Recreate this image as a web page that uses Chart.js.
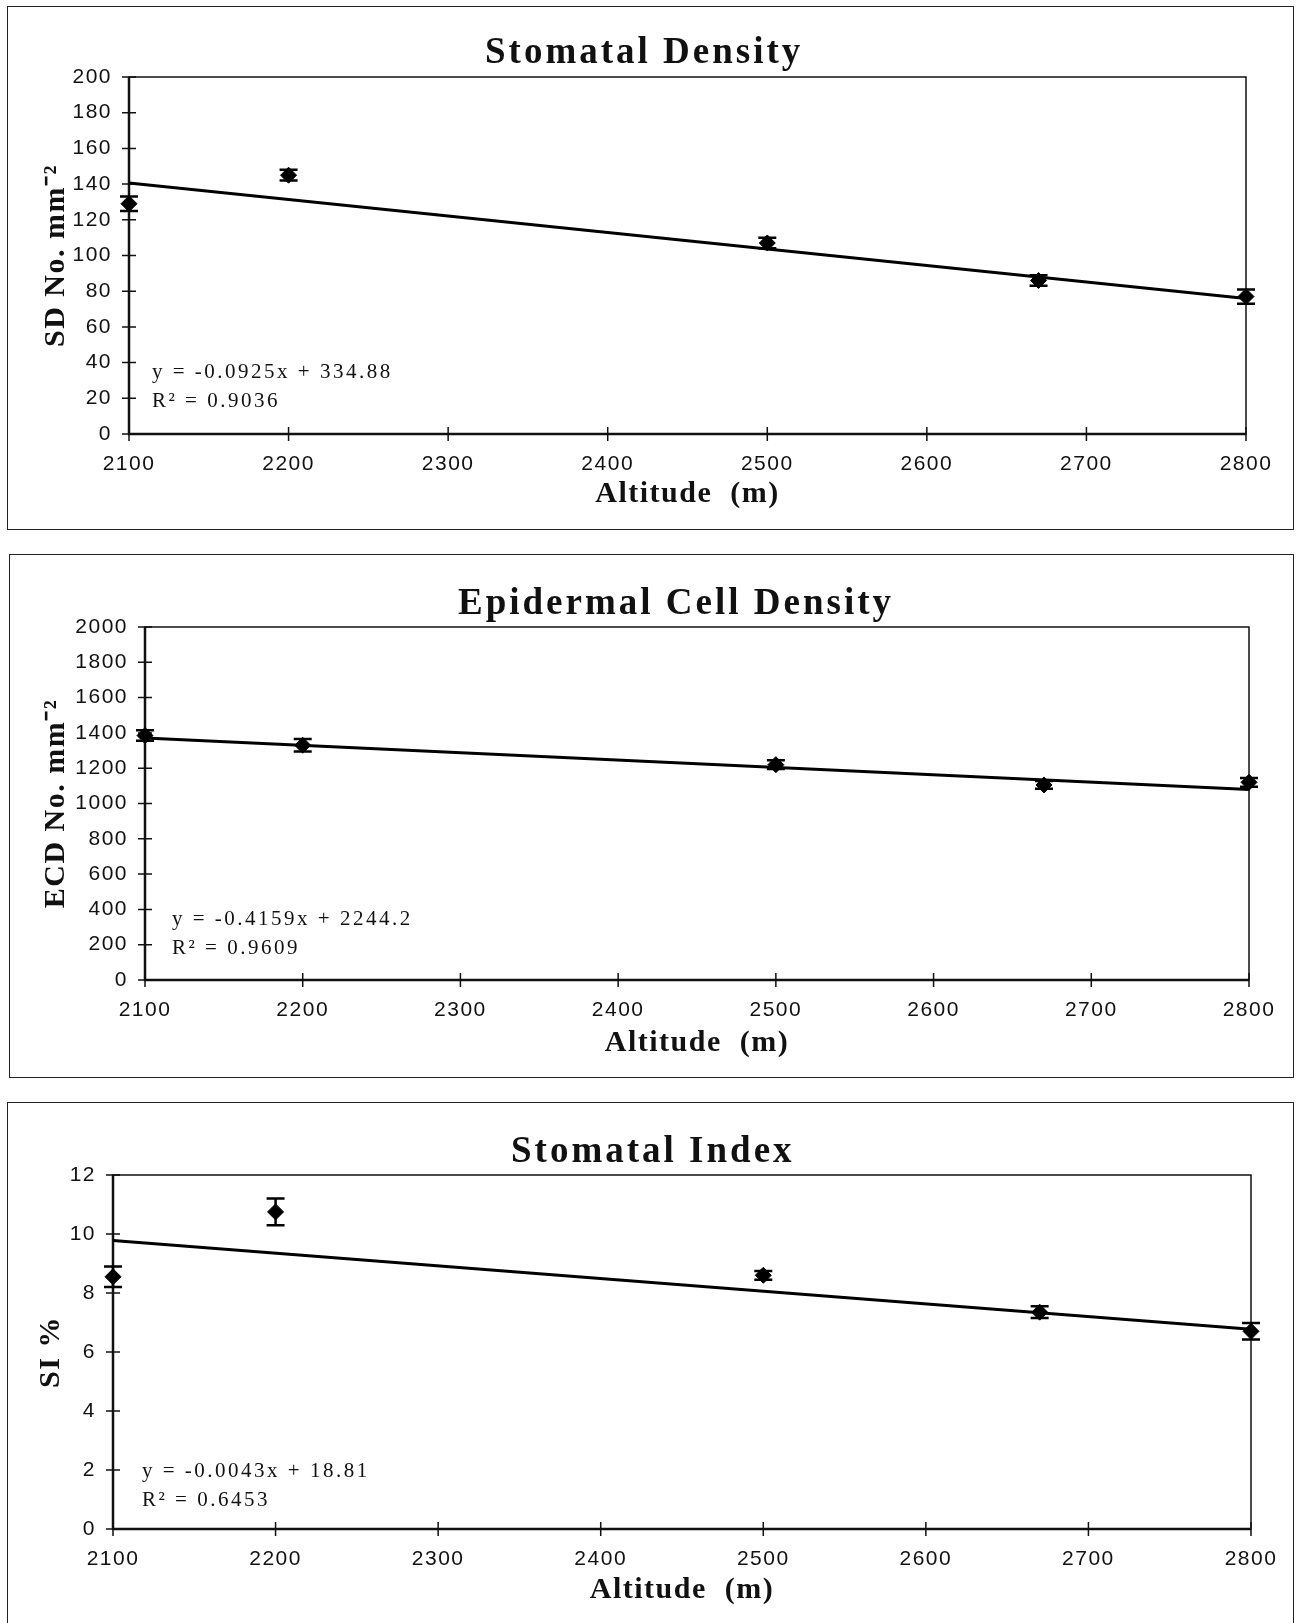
<!DOCTYPE html>
<html>
<head>
<meta charset="utf-8">
<script src="https://cdn.jsdelivr.net/npm/chart.js@4.4.1/dist/chart.umd.min.js"></script>
<style>
	html, body { margin: 0; padding: 0; background: #fff; }
	body { width: 1299px; height: 1623px; position: relative; overflow: hidden; }
	canvas { position: absolute; }
	.frame { position: absolute; box-sizing: border-box; border: 1.5px solid #222; pointer-events: none; }
</style>
</head>
<body>
<canvas id="sd-chart" width="1287" height="524" style="left:7px;top:6px"></canvas>
<div class="frame" style="left:7px;top:6px;width:1287px;height:524px"></div>
<canvas id="ecd-chart" width="1285" height="524" style="left:9px;top:554px"></canvas>
<div class="frame" style="left:9px;top:554px;width:1285px;height:524px"></div>
<canvas id="si-chart" width="1287" height="530" style="left:7px;top:1102px"></canvas>
<div class="frame" style="left:7px;top:1102px;width:1287px;height:530px"></div>
<script>
// data
const altitudes = [2100, 2200, 2500, 2670, 2800];
const altitude_ticks = [2100, 2200, 2300, 2400, 2500, 2600, 2700, 2800];
const trend_altitudes = [2100, 2800];

const sd_values = [129, 145, 107, 86, 77];
const sd_errors = [4, 3, 3, 3, 4];
const sd_trend = [140.6, 75.9];
const sd_ticks = [0, 20, 40, 60, 80, 100, 120, 140, 160, 180, 200];

const ecd_values = [1385, 1330, 1220, 1105, 1120];
const ecd_errors = [30, 35, 25, 22, 25];
const ecd_trend = [1370.8, 1079.7];
const ecd_ticks = [0, 200, 400, 600, 800, 1000, 1200, 1400, 1600, 1800, 2000];

const si_values = [8.55, 10.75, 8.6, 7.35, 6.7];
const si_errors = [0.35, 0.45, 0.15, 0.2, 0.28];
const si_trend = [9.78, 6.77];
const si_ticks = [0, 2, 4, 6, 8, 10, 12];

const serif = "'Liberation Serif', 'Times New Roman', serif";
const sans = "'Liberation Sans', Arial, sans-serif";

// plot frame with ticks crossing the axes
const frame_plugin = {
	id: 'frame',
	beforeDraw(chart) {
		chart.ctx.letterSpacing = '1.5px';
	},
	beforeDatasetsDraw(chart) {
		const ctx = chart.ctx;
		const a = chart.chartArea;
		ctx.save();
		ctx.strokeStyle = '#111';
		ctx.lineWidth = 1.5;
		ctx.strokeRect(a.left, a.top, a.right - a.left, a.bottom - a.top);
		ctx.lineWidth = 2.5;
		ctx.beginPath();
		ctx.moveTo(a.left, a.top);
		ctx.lineTo(a.left, a.bottom);
		ctx.lineTo(a.right, a.bottom);
		ctx.stroke();
		ctx.lineWidth = 1.5;
		ctx.beginPath();
		chart.scales.y.ticks.forEach((t) => {
			const y = chart.scales.y.getPixelForValue(t.value);
			ctx.moveTo(a.left - 7, y);
			ctx.lineTo(a.left + 7, y);
		});
		chart.scales.x.ticks.forEach((t) => {
			const x = chart.scales.x.getPixelForValue(t.value);
			ctx.moveTo(x, a.bottom - 7);
			ctx.lineTo(x, a.bottom + 7);
		});
		ctx.stroke();
		ctx.restore();
	},
};

const errorbar_plugin = {
	id: 'errorbars',
	afterDatasetsDraw(chart, args, opts) {
		const ctx = chart.ctx;
		const x_scale = chart.scales.x;
		const y_scale = chart.scales.y;
		ctx.save();
		ctx.strokeStyle = '#000';
		ctx.lineWidth = 2.5;
		ctx.beginPath();
		opts.values.forEach((v, i) => {
			const x = x_scale.getPixelForValue(opts.x[i]);
			const top = y_scale.getPixelForValue(v + opts.errors[i]);
			const bottom = y_scale.getPixelForValue(v - opts.errors[i]);
			ctx.moveTo(x, top);
			ctx.lineTo(x, bottom);
			ctx.moveTo(x - 9, top);
			ctx.lineTo(x + 9, top);
			ctx.moveTo(x - 9, bottom);
			ctx.lineTo(x + 9, bottom);
		});
		ctx.stroke();
		ctx.restore();
	},
};

const text_plugin = {
	id: 'panel_text',
	afterDraw(chart, args, opts) {
		const ctx = chart.ctx;
		ctx.save();
		ctx.fillStyle = '#111';
		ctx.textAlign = 'left';
		ctx.textBaseline = 'alphabetic';
		ctx.font = 'bold 37px ' + serif;
		ctx.letterSpacing = '3px';
		ctx.fillText(opts.title, opts.title_x, opts.title_y);
		ctx.font = '21px ' + serif;
		ctx.letterSpacing = '2.5px';
		opts.equation.forEach((line, i) => {
			ctx.fillText(line, opts.eq_x, opts.eq_y[i]);
		});
		ctx.restore();
	},
};

function makeChart(canvas_id, p) {
	const points = altitudes.map((x, i) => ({x: x, y: p.values[i]}));
	const trend = trend_altitudes.map((x, i) => ({x: x, y: p.trend[i]}));
	const half_title = 30 * 1.2 / 2;
	return new Chart(document.getElementById(canvas_id).getContext('2d'), {
		type: 'scatter',
		data: {
			datasets: [
				{
					data: points,
					pointStyle: 'rectRot',
					pointRadius: 8,
					backgroundColor: '#000',
					borderColor: '#000',
					borderWidth: 1,
					clip: false,
				},
				{
					data: trend,
					showLine: true,
					pointRadius: 0,
					borderColor: '#000',
					borderWidth: 3,
					clip: false,
				},
			],
		},
		options: {
			responsive: false,
			animation: false,
			events: [],
			layout: {
				padding: {left: 0, top: p.top, right: p.right, bottom: 0},
			},
			scales: {
				x: {
					type: 'linear',
					min: altitude_ticks[0],
					max: altitude_ticks[altitude_ticks.length - 1],
					afterBuildTicks: (s) => { s.ticks = altitude_ticks.map((v) => ({value: v})); },
					afterFit: (s) => { s.height = p.x_height; },
					grid: {display: false, drawTicks: false},
					border: {display: false},
					ticks: {
						callback: (v) => String(v),
						font: {family: sans, size: 21},
						color: '#111',
						padding: 18,
						maxRotation: 0,
						autoSkip: false,
					},
					title: {
						display: true,
						text: 'Altitude  (m)',
						font: {family: serif, size: 30, weight: 'bold'},
						color: '#111',
						padding: {top: 0, bottom: p.x_height - p.x_title_offset - half_title},
					},
				},
				y: {
					type: 'linear',
					min: p.ticks[0],
					max: p.ticks[p.ticks.length - 1],
					afterBuildTicks: (s) => { s.ticks = p.ticks.map((v) => ({value: v})); },
					afterFit: (s) => { s.width = p.y_width; },
					grid: {display: false, drawTicks: false},
					border: {display: false},
					ticks: {
						callback: (v) => String(v),
						font: {family: sans, size: 21},
						color: '#111',
						padding: 17,
						autoSkip: false,
					},
					title: {
						display: true,
						text: p.y_title,
						font: {family: serif, size: 30, weight: 'bold'},
						color: '#111',
						padding: {top: p.y_title_x - half_title, bottom: 0},
					},
				},
			},
			plugins: {
				legend: {display: false},
				tooltip: {enabled: false},
				errorbars: {x: altitudes, values: p.values, errors: p.errors},
				panel_text: {
					title: p.title,
					title_x: p.title_x,
					title_y: p.title_y,
					equation: p.equation,
					eq_x: p.eq_x,
					eq_y: p.eq_y,
				},
			},
		},
		plugins: [frame_plugin, errorbar_plugin, text_plugin],
	});
}

var sd_chart = makeChart('sd-chart', {
	values: sd_values, errors: sd_errors, trend: sd_trend, ticks: sd_ticks,
	title: 'Stomatal Density', title_x: 478, title_y: 57,
	y_title: 'SD No. mm\u207B\u00B2',
	equation: ['y = -0.0925x + 334.88', 'R\u00B2 = 0.9036'], eq_x: 145, eq_y: [372, 401],
	top: 71, right: 48, y_width: 122, x_height: 96, x_title_offset: 60, y_title_x: 49,
});

var ecd_chart = makeChart('ecd-chart', {
	values: ecd_values, errors: ecd_errors, trend: ecd_trend, ticks: ecd_ticks,
	title: 'Epidermal Cell Density', title_x: 449, title_y: 60,
	y_title: 'ECD No. mm\u207B\u00B2',
	equation: ['y = -0.4159x + 2244.2', 'R\u00B2 = 0.9609'], eq_x: 163, eq_y: [371, 400],
	top: 73, right: 45, y_width: 136, x_height: 98, x_title_offset: 63, y_title_x: 47,
});

var si_chart = makeChart('si-chart', {
	values: si_values, errors: si_errors, trend: si_trend, ticks: si_ticks,
	title: 'Stomatal Index', title_x: 504, title_y: 60,
	y_title: 'SI %',
	equation: ['y = -0.0043x + 18.81', 'R\u00B2 = 0.6453'], eq_x: 135, eq_y: [375, 404],
	top: 73, right: 43, y_width: 106, x_height: 103, x_title_offset: 61, y_title_x: 44,
});
</script>
</body>
</html>
